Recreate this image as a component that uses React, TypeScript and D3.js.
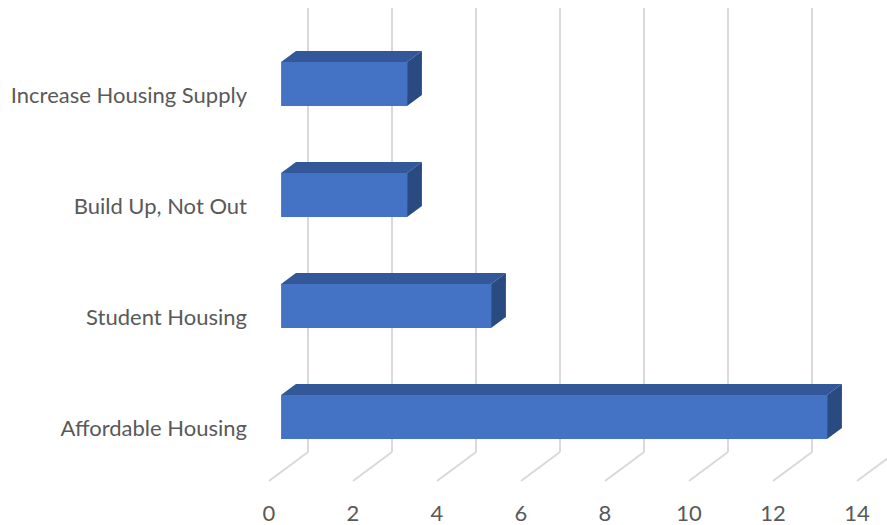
import React from "react";
import * as d3 from "d3";

const categories = ["Affordable Housing", "Student Housing", "Build Up, Not Out", "Increase Housing Supply"];
const values = [13, 5, 3, 3];
const tickValues = [0, 2, 4, 6, 8, 10, 12, 14];

const W = 887;
const H = 525;
const FONT = "Lato, 'Open Sans', sans-serif";

export default function App() {
  // front-plane value scale
  const x = d3.scaleLinear().domain([0, 14]).range([269, 857]);
  // depth vector (front -> back of floor)
  const depth = { dx: 39, dy: -29 };
  const barFront = 0.31;
  const barBack = 0.69;
  const floorY = 481;
  const wallTop = 8;
  const y = d3.scaleBand<string>().domain([...categories].reverse()).range([37.5, 481.5]).padding(0);
  const barH = 44;

  const off = (t: number) => ({ dx: depth.dx * t, dy: depth.dy * t });
  const f = off(barFront);
  const b = off(barBack);
  const pts = (p: [number, number][]) => p.map((q) => q.join(",")).join(" ");

  return (
    <svg width={W} height={H} style={{ display: "block", position: "absolute", left: 0, top: 0 }}>
      <rect width={W} height={H} fill="#ffffff" />
      {/* gridlines: back wall + floor */}
      {tickValues.map((t) => {
        const xf = x(t);
        const xb = xf + depth.dx;
        const yb = floorY + depth.dy;
        return (
          <g key={t} stroke="#d9d9d9" strokeWidth={2} fill="none">
            <line x1={xb} y1={wallTop} x2={xb} y2={yb} />
            <line x1={xb} y1={yb} x2={xf} y2={floorY} />
          </g>
        );
      })}
      {/* bars */}
      {categories.map((c, i) => {
        const v = values[i];
        const cy = (y(c) as number) + y.bandwidth() / 2 - 10;
        const top = cy - barH / 2 + f.dy + 10;
        const bot = top + barH;
        const x0 = x(0) + f.dx;
        const x1 = x(v) + f.dx;
        const ddx = b.dx - f.dx;
        const ddy = b.dy - f.dy;
        return (
          <g key={c}>
            <polygon
              points={pts([
                [x0, top],
                [x0 + ddx, top + ddy],
                [x1 + ddx, top + ddy],
                [x1, top],
              ])}
              fill="#335899"
            />
            <polygon
              points={pts([
                [x1, top],
                [x1 + ddx, top + ddy],
                [x1 + ddx, bot + ddy],
                [x1, bot],
              ])}
              fill="#2a4a82"
            />
            <rect x={x0} y={top} width={x1 - x0} height={barH} fill="#4472c4" />
          </g>
        );
      })}
      {/* category labels */}
      {categories.map((c) => (
        <text
          key={c}
          x={247}
          y={(y(c) as number) + y.bandwidth() / 2 + 1}
          textAnchor="end"
          dominantBaseline="central"
          fontFamily={FONT}
          fontSize={22}
          fill="#595959"
        >
          {c}
        </text>
      ))}
      {/* value tick labels */}
      {tickValues.map((t) => (
        <text
          key={t}
          x={x(t)}
          y={512}
          textAnchor="middle"
          dominantBaseline="central"
          fontFamily={FONT}
          fontSize={22}
          fill="#595959"
        >
          {t}
        </text>
      ))}
    </svg>
  );
}
